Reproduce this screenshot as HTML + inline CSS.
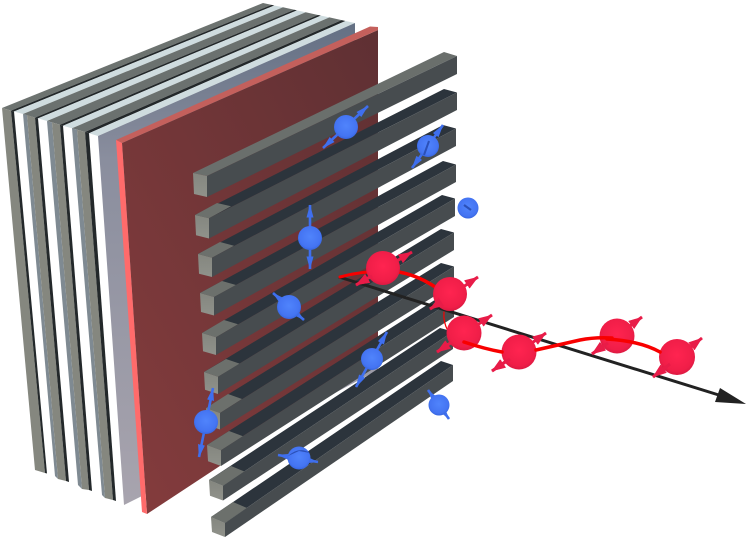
<!DOCTYPE html>
<html>
<head>
<meta charset="utf-8">
<style>
html,body{margin:0;padding:0;background:#fff}
svg{display:block}
</style>
</head>
<body>
<svg width="748" height="538" viewBox="0 0 748 538" xmlns="http://www.w3.org/2000/svg">
<defs>
<linearGradient id="wedge" gradientUnits="userSpaceOnUse" x1="0" y1="25" x2="0" y2="505">
<stop offset="0" stop-color="#647084"/><stop offset="0.28" stop-color="#8a8e9e"/><stop offset="1" stop-color="#a8a4ae"/>
</linearGradient>
<linearGradient id="redface" x1="0" y1="1" x2="1" y2="0">
<stop offset="0" stop-color="#853c3d"/><stop offset="1" stop-color="#5f3033"/>
</linearGradient>
<linearGradient id="front" x1="0" y1="0" x2="0" y2="1">
<stop offset="0" stop-color="#84867f"/><stop offset="1" stop-color="#90928b"/>
</linearGradient>
<radialGradient id="blue" cx="0.5" cy="0.45" r="0.55">
<stop offset="0" stop-color="#5084fc"/><stop offset="0.8" stop-color="#4474f2"/><stop offset="1" stop-color="#3766e0"/>
</radialGradient>
<radialGradient id="red" cx="0.5" cy="0.45" r="0.55">
<stop offset="0" stop-color="#ff2450"/><stop offset="0.8" stop-color="#f01e48"/><stop offset="1" stop-color="#dc1a42"/>
</radialGradient>
<marker id="ab" viewBox="0 0 13 7" refX="12.5" refY="3.5" markerWidth="13" markerHeight="7" orient="auto-start-reverse" markerUnits="userSpaceOnUse">
<path d="M0 0L13 3.5L0 7Z" fill="#3f6fee"/>
</marker>
<marker id="ar" viewBox="0 0 14 10" refX="13.5" refY="5" markerWidth="14" markerHeight="10" orient="auto-start-reverse" markerUnits="userSpaceOnUse">
<path d="M0 0L14 5L0 10Z" fill="#e81c48"/>
</marker>
</defs>

<!-- stack top faces -->
<polygon points="2,108 263,3 271.6,4.9 11,110.6" fill="#6d7370"/>
<polygon points="11,110.6 271.6,4.9 274.4,5.5 14,111.5" fill="#23282a"/>
<polygon points="14,111.5 274.4,5.5 283,7.3 23,114" fill="#cfdcdf"/>
<polygon points="23,114 283,7.3 294.3,9.8 35,117.6" fill="#6b716f"/>
<polygon points="35,117.6 294.3,9.8 297,10.4 38,118.4" fill="#23282a"/>
<polygon points="38,118.4 297,10.4 305.7,12.3 47,121" fill="#cfdcdf"/>
<polygon points="47,121 305.7,12.3 318,15 60,124.8" fill="#6b716f"/>
<polygon points="60,124.8 318,15 320.9,15.6 63,125.7" fill="#23282a"/>
<polygon points="63,125.7 320.9,15.6 329.4,17.4 72,128.3" fill="#cfdcdf"/>
<polygon points="72,128.3 329.4,17.4 341.7,20.1 85,132" fill="#6b716f"/>
<polygon points="85,132 341.7,20.1 345.5,21 89,133.2" fill="#23282a"/>
<polygon points="89,133.2 345.5,21 355,23 98,136" fill="#cfdcdf"/>

<!-- stack front faces -->
<polygon points="2,108 11,110.6 45,473 35,470" fill="#85877f"/>
<polygon points="11,110.6 14,111.5 47,473.5 45,473" fill="#23282a"/>
<polygon points="23,114 27,115 58,479 55,476" fill="#7f8a92"/>
<polygon points="27,115 35,117.6 66,481 58,479" fill="#85877f"/>
<polygon points="35,117.6 38,118.4 69,482 66,481" fill="#23282a"/>
<polygon points="47,121 52,122.5 82,489 78,485" fill="#7f8a92"/>
<polygon points="52,122.5 60,124.8 89,490 82,489" fill="#85877f"/>
<polygon points="60,124.8 63,125.7 92,491 89,490" fill="#23282a"/>
<polygon points="72,128.3 77,129.8 105,498 102,495" fill="#7f8a92"/>
<polygon points="77,129.8 85,132 113,500 105,498" fill="#85877f"/>
<polygon points="85,132 89,133.2 116,501 113,500" fill="#23282a"/>

<!-- wedge -->
<polygon points="98,136 355,23 355,40 378,40 378,370 140,497 124,505" fill="url(#wedge)"/>

<!-- red plate -->
<polygon points="122,143 378,30 378,362 147,514" fill="url(#redface)"/>
<polygon points="116,140 370,26.5 378,27 378,30 122,143" fill="#c4605c"/>
<polygon points="116,140 122,143 147,514 142,512" fill="#ff6b6b"/>

<!-- bars -->
<g>
<polygon points="193,173 444,52 457,56 207,176" fill="#6a6f6c"/>
<polygon points="207,176 457,56 457,74 207,197" fill="#474c4f"/>
<polygon points="193,173 207,176 207,197 194,194" fill="url(#front)"/>

<polygon points="195,215 444,89 457,92.5 209,218.3" fill="#2c343c"/>
<polygon points="195,215 217,203 231,206.3 209,218.3" fill="#6c706c"/>
<polygon points="209,218.3 457,92.5 457,110 209,238.5" fill="#474c4f"/>
<polygon points="195,215 209,218.3 209,238.5 196,235.3" fill="url(#front)"/>

<polygon points="198,254 443,125 456,128.5 212,257.7" fill="#2c343c"/>
<polygon points="198,254 220,242 234,245.7 212,257.7" fill="#6c706c"/>
<polygon points="212,257.7 456,128.5 456,146 212,277" fill="#474c4f"/>
<polygon points="198,254 212,257.7 212,277 199,273.7" fill="url(#front)"/>

<polygon points="200,293 443,161 456,164.5 214,297" fill="#2c343c"/>
<polygon points="200,293 222,281 236,285 214,297" fill="#6c706c"/>
<polygon points="214,297 456,164.5 456,182 214,315.5" fill="#474c4f"/>
<polygon points="200,293 214,297 214,315.5 201,312" fill="url(#front)"/>

<polygon points="202,333 442,195 455,198.5 216,337.3" fill="#2c343c"/>
<polygon points="202,333 224,320 238,324.3 216,337.3" fill="#6c706c"/>
<polygon points="216,337.3 455,198.5 455,216 216,355" fill="#474c4f"/>
<polygon points="202,333 216,337.3 216,355 203,351.3" fill="url(#front)"/>

<polygon points="204,372 441,229 454,232.5 218,376.7" fill="#2c343c"/>
<polygon points="204,372 226,359 240,363.7 218,376.7" fill="#6c706c"/>
<polygon points="218,376.7 454,232.5 454,250 218,394" fill="#474c4f"/>
<polygon points="204,372 218,376.7 218,394 205,389.7" fill="url(#front)"/>

<polygon points="206,408 441,263 454,266.5 220,413" fill="#2c343c"/>
<polygon points="206,408 228,394 242,399 220,413" fill="#6c706c"/>
<polygon points="220,413 454,266.5 454,284 220,429.5" fill="#474c4f"/>
<polygon points="206,408 220,413 220,429.5 207,425" fill="url(#front)"/>

<polygon points="207,445 441,296 454,299.5 221,450.3" fill="#2c343c"/>
<polygon points="207,445 229,431 243,436.3 221,450.3" fill="#6c706c"/>
<polygon points="221,450.3 454,299.5 454,317 221,466" fill="#474c4f"/>
<polygon points="207,445 221,450.3 221,466 208,461.3" fill="url(#front)"/>

<polygon points="209,480 440,328 453,331.5 223,485.7" fill="#2c343c"/>
<polygon points="209,480 231,466 245,471.7 223,485.7" fill="#6c706c"/>
<polygon points="223,485.7 453,331.5 453,349 223,500.5" fill="#474c4f"/>
<polygon points="209,480 223,485.7 223,500.5 210,495.7" fill="url(#front)"/>

<polygon points="211,517 441,361 453,365 225,523" fill="#2c343c"/>
<polygon points="211,517 233,502 247,508 225,523" fill="#6c706c"/>
<polygon points="225,523 453,365 453,381 225,537" fill="#474c4f"/>
<polygon points="211,517 225,523 225,537 212,532" fill="url(#front)"/>
</g>

<!-- blue arrows -->
<g stroke="#3f6fee" stroke-width="2.6" fill="none">
<line x1="323" y1="148" x2="368" y2="106" marker-start="url(#ab)" marker-end="url(#ab)"/>
<line x1="412" y1="168" x2="443" y2="125" marker-start="url(#ab)" marker-end="url(#ab)"/>
<line x1="310" y1="205" x2="310" y2="269" marker-start="url(#ab)" marker-end="url(#ab)"/>
<line x1="273" y1="293" x2="304" y2="320" marker-start="url(#ab)" marker-end="url(#ab)"/>
<line x1="356" y1="387" x2="387" y2="332" marker-start="url(#ab)" marker-end="url(#ab)"/>
<line x1="213" y1="388" x2="199" y2="457" marker-start="url(#ab)" marker-end="url(#ab)"/>
<line x1="278" y1="455" x2="318" y2="462" marker-start="url(#ab)" marker-end="url(#ab)"/>
<line x1="428" y1="390" x2="449" y2="419" marker-start="url(#ab)" marker-end="url(#ab)"/>
</g>

<!-- blue spheres -->
<circle cx="346" cy="127" r="12" fill="url(#blue)"/>
<circle cx="428" cy="146" r="11" fill="url(#blue)"/>
<circle cx="468" cy="208" r="10.5" fill="url(#blue)"/>
<circle cx="310" cy="238" r="12" fill="url(#blue)"/>
<circle cx="289" cy="307" r="12" fill="url(#blue)"/>
<circle cx="372" cy="359" r="11" fill="url(#blue)"/>
<circle cx="206" cy="422" r="12" fill="url(#blue)"/>
<circle cx="299" cy="458" r="11.5" fill="url(#blue)"/>
<circle cx="439" cy="405" r="10.5" fill="url(#blue)"/>
<!-- arrow marks on spheres -->
<line x1="424" y1="155" x2="429" y2="141" stroke="#2b50b8" stroke-width="2"/>
<line x1="464" y1="205" x2="471" y2="210" stroke="#2b50b8" stroke-width="2.2"/>
<path d="M288,456 Q299,446 310,453 L299,451 Z" fill="#2b50b8"/>

<!-- axis -->
<line x1="339" y1="277" x2="722" y2="396" stroke="#222" stroke-width="3"/>
<polygon points="720,388 715,402 746,404" fill="#222"/>

<!-- wave behind -->
<g fill="none" stroke="#f80000" stroke-linecap="round">
<path d="M340,277 Q355,273 368,272" stroke-width="3"/>
<path d="M399,272 Q420,276 438,289" stroke-width="3.5"/>
<path d="M444,312 Q443,322 448,331" stroke-width="1.2"/>
</g>

<!-- red arrows -->
<g stroke="#e81c48" stroke-width="3" fill="none">
<line x1="356" y1="285" x2="412" y2="252" marker-start="url(#ar)" marker-end="url(#ar)"/>
<line x1="430" y1="309" x2="478" y2="277" marker-start="url(#ar)" marker-end="url(#ar)"/>
<line x1="437" y1="352" x2="492" y2="315" marker-start="url(#ar)" marker-end="url(#ar)"/>
<line x1="492" y1="371" x2="546" y2="333" marker-start="url(#ar)" marker-end="url(#ar)"/>
<line x1="592" y1="354" x2="642" y2="317" marker-start="url(#ar)" marker-end="url(#ar)"/>
<line x1="653" y1="377" x2="702" y2="338" marker-start="url(#ar)" marker-end="url(#ar)"/>
</g>

<!-- red spheres -->
<circle cx="383" cy="268" r="17" fill="url(#red)"/>
<circle cx="450" cy="294" r="17" fill="url(#red)"/>
<circle cx="464" cy="333" r="17.5" fill="url(#red)"/>
<circle cx="519" cy="352" r="17.5" fill="url(#red)"/>
<circle cx="617" cy="336" r="17.5" fill="url(#red)"/>
<circle cx="677" cy="357" r="18" fill="url(#red)"/>

<!-- front parts of arrows -->
<g stroke="#e81c48" stroke-width="3" fill="none">
<line x1="356" y1="285" x2="372" y2="276" marker-start="url(#ar)"/>
<line x1="430" y1="309" x2="441" y2="302" marker-start="url(#ar)"/>
<line x1="437" y1="352" x2="452" y2="342" marker-start="url(#ar)"/>
<line x1="492" y1="371" x2="510" y2="359" marker-start="url(#ar)"/>
<line x1="592" y1="354" x2="608" y2="343" marker-start="url(#ar)"/>
<line x1="653" y1="377" x2="670" y2="364" marker-start="url(#ar)"/>
</g>

<!-- wave in front -->
<g fill="none" stroke="#f80000" stroke-linecap="round" stroke-width="3.5">
<path d="M464,342 Q485,349 502,352"/>
<path d="M536,350 Q558,345 580,340 Q595,337 612,338"/>
<path d="M607,339 Q640,341 660,352"/>
</g>
</svg>
</body>
</html>
